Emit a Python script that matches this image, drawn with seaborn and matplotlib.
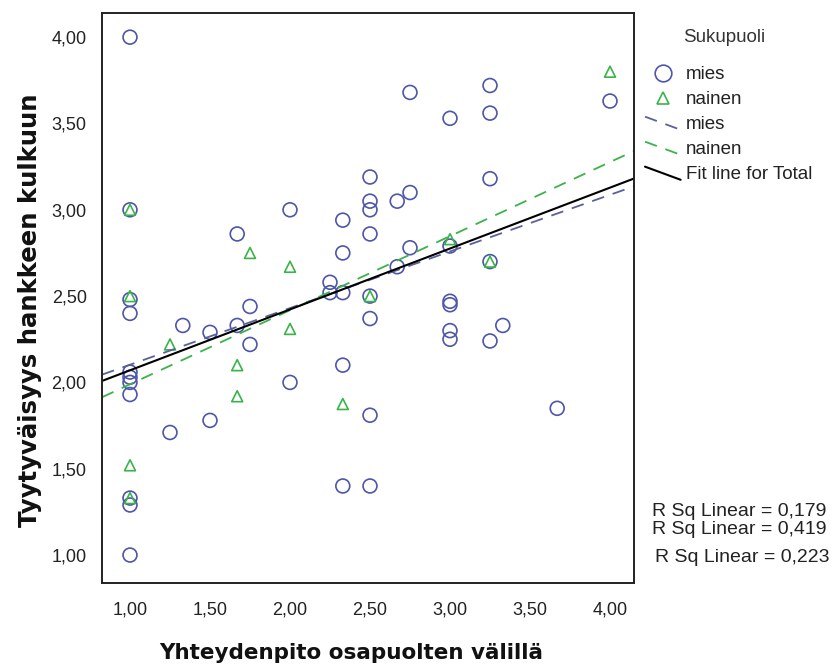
import numpy as np
import pandas as pd
import matplotlib
matplotlib.use("Agg")
import matplotlib.pyplot as plt
import seaborn as sns
from matplotlib.lines import Line2D
from matplotlib.legend_handler import HandlerLine2D

# ---- data -------------------------------------------------------------
mies_x = [1.00, 1.00, 1.00, 1.00, 1.00, 1.00, 1.00, 1.00, 1.00, 1.00, 1.00,
          1.25, 1.33, 1.50, 1.50, 1.67, 1.67, 1.75, 1.75,
          2.00, 2.00,
          2.25, 2.25, 2.33, 2.33, 2.33, 2.33, 2.33,
          2.50, 2.50, 2.50, 2.50, 2.50, 2.50, 2.50, 2.50,
          2.67, 2.67, 2.75, 2.75, 2.75,
          3.00, 3.00, 3.00, 3.00, 3.00, 3.00,
          3.25, 3.25, 3.25, 3.25, 3.25, 3.33, 3.67, 4.00]
mies_y = [4.00, 3.00, 2.48, 2.40, 2.06, 2.03, 2.00, 1.93, 1.33, 1.29, 1.00,
          1.71, 2.33, 2.29, 1.78, 2.86, 2.33, 2.44, 2.22,
          3.00, 2.00,
          2.58, 2.52, 2.94, 2.75, 2.52, 2.10, 1.40,
          3.19, 3.05, 3.00, 2.86, 2.50, 2.37, 1.81, 1.40,
          3.05, 2.67, 3.68, 3.10, 2.78,
          3.53, 2.79, 2.47, 2.45, 2.30, 2.25,
          3.72, 3.56, 3.18, 2.70, 2.24, 2.33, 1.85, 3.63]

nainen_x = [1.00, 1.00, 1.00, 1.00, 1.25, 1.67, 1.67, 1.75,
            2.00, 2.00, 2.33, 2.50, 3.00, 3.25, 4.00]
nainen_y = [3.00, 2.50, 1.52, 1.33, 2.22, 2.10, 1.92, 2.75,
            2.67, 2.31, 1.875, 2.50, 2.83, 2.70, 3.80]

r2_labels = ["R Sq Linear = 0,179", "R Sq Linear = 0,419", "R Sq Linear = 0,223"]
group_labels = ["mies", "nainen"]
ticks = [1.0, 1.5, 2.0, 2.5, 3.0, 3.5, 4.0]

total_x = mies_x + nainen_x
total_y = mies_y + nainen_y

# ---- style ------------------------------------------------------------
sns.set_style("white")
plt.rcParams["font.family"] = ["Liberation Sans", "DejaVu Sans"]

blue = "#4d56a8"
green = "#3bb34a"
blue_line = "#5b6098"

fig = plt.figure(figsize=(8.33, 6.70), dpi=100)
ax = fig.add_axes([102 / 833, 1 - 583 / 670, (634 - 102) / 833, (583 - 13) / 670])
ax.set_xlim(0.825, 4.15)
ax.set_ylim(0.838, 4.14)

# scatter + group fit lines
sns.regplot(x=mies_x, y=mies_y, ax=ax, ci=None, truncate=False, color=blue,
            marker="o",
            scatter_kws=dict(s=100, facecolors="none", edgecolors=blue,
                             linewidths=1.2, alpha=1),
            line_kws=dict(color=blue_line, lw=1.3, ls=(0, (7, 5))))
sns.regplot(x=nainen_x, y=nainen_y, ax=ax, ci=None, truncate=False, color=green,
            marker="^",
            scatter_kws=dict(s=62, facecolors="none", edgecolors=green,
                             linewidths=1.2, alpha=1),
            line_kws=dict(color=green, lw=1.3, ls=(0, (7, 5))))
# overall fit line
sns.regplot(x=total_x, y=total_y, ax=ax, ci=None, truncate=False, scatter=False,
            color="black", line_kws=dict(lw=1.5))

ax.set_xlim(0.825, 4.15)
ax.set_ylim(0.838, 4.14)

# ---- axes ---------------------------------------------------------------
fmt = lambda v: f"{v:.2f}".replace(".", ",")
ax.set_xticks(ticks)
ax.set_yticks(ticks)
ax.set_xticklabels([fmt(t) for t in ticks])
ax.set_yticklabels([fmt(t) for t in ticks])
ax.tick_params(axis="both", direction="out", length=8, width=1.4, pad=3,
               labelsize=13, labelcolor="#222222", color="#222222")
ax.tick_params(axis="x", pad=5)
for sp in ax.spines.values():
    sp.set_visible(True)
    sp.set_color("#222222")
    sp.set_linewidth(1.4)

ax.set_xlabel("Yhteydenpito osapuolten välillä", fontsize=15.5, fontweight="bold",
              family=["DejaVu Sans"], color="#111111")
ax.set_ylabel("Tyytyväisyys hankkeen kulkuun", fontsize=17.6, fontweight="bold",
              family=["DejaVu Sans"], color="#111111")
ax.xaxis.set_label_coords(0.468, -0.105)
ax.yaxis.set_label_coords(-0.112, 0.479)


# ---- legend -------------------------------------------------------------
class SlantLineHandler(HandlerLine2D):
    def create_artists(self, legend, orig_handle, xdescent, ydescent,
                       width, height, fontsize, trans):
        x0, x1 = -xdescent, -xdescent + width
        y0, y1 = -ydescent + height * 0.95, -ydescent - height * 0.05
        line = Line2D([x0, x1], [y0, y1])
        self.update_prop(line, orig_handle, legend)
        line.set_transform(trans)
        return [line]


h_mies_pt = Line2D([], [], ls="none", marker="o", ms=12, mfc="none",
                   mec=blue, mew=1.2)
h_nainen_pt = Line2D([], [], ls="none", marker="^", ms=9, mfc="none",
                     mec=green, mew=1.2)
h_mies_ln = Line2D([], [], color=blue_line, lw=1.3, ls=(0, (7, 5)))
h_nainen_ln = Line2D([], [], color=green, lw=1.3, ls=(0, (7, 5)))
h_total_ln = Line2D([], [], color="black", lw=1.5)

leg = ax.legend(
    [h_mies_pt, h_nainen_pt, h_mies_ln, h_nainen_ln, h_total_ln],
    group_labels + group_labels + ["Fit line for Total"],
    handler_map={h_mies_ln: SlantLineHandler(), h_nainen_ln: SlantLineHandler(),
                 h_total_ln: SlantLineHandler()},
    loc="upper left", bbox_to_anchor=(645 / 833, 1 - 66 / 670),
    bbox_transform=fig.transFigure, frameon=False, fontsize=13.5,
    handlelength=1.9, handletextpad=0.3, labelspacing=0.42,
    borderpad=0, borderaxespad=0)
for t in leg.get_texts():
    t.set_color("#222222")

fig.text(724 / 833, 1 - 37 / 670, "Sukupuoli", ha="center", va="center",
         fontsize=13.5, color="#333333")

# ---- R squared annotations ----------------------------------------------
fig.text(652 / 833, 1 - 512 / 670, r2_labels[0], ha="left", va="center",
         fontsize=14, color="#222222")
fig.text(652 / 833, 1 - 529 / 670, r2_labels[1], ha="left", va="center",
         fontsize=14, color="#222222")
fig.text(655 / 833, 1 - 558 / 670, r2_labels[2], ha="left", va="center",
         fontsize=14, color="#222222")

fig.savefig("out.png", dpi=100, facecolor="white")
